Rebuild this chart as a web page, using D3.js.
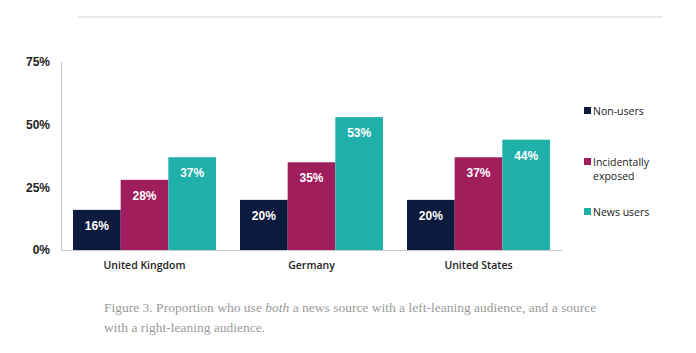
<!DOCTYPE html>
<html><head><meta charset="utf-8">
<script src="https://cdn.jsdelivr.net/npm/d3@7"></script>
<style>html,body{margin:0;padding:0;background:#fff;}svg{display:block;}</style>
</head><body>
<svg id="chart" width="696" height="353"></svg>
<script>
const categories = ["United Kingdom", "Germany", "United States"];
const seriesNames = ["Non-users", "Incidentally exposed", "News users"];
const nonUsers = [16, 20, 20];
const incidentallyExposed = [28, 35, 37];
const newsUsers = [37, 53, 44];
const yTicks = [0, 25, 50, 75];
const colors = ["#0c1a3d", "#a01e5c", "#1fb0ab"];

const seriesValues = [nonUsers, incidentallyExposed, newsUsers];
const svg = d3.select("#chart");
const sans = "'Liberation Sans', Arial, sans-serif";

// top rule
svg.append("line").attr("x1", 78).attr("x2", 663).attr("y1", 17).attr("y2", 17)
  .attr("stroke", "#e2e2e2").attr("stroke-width", 1.5);

const x = d3.scaleBand().domain(categories).range([61, 562]).paddingInner(0.144).paddingOuter(0.072);
const xs = d3.scaleBand().domain(d3.range(3)).range([0, x.bandwidth()]);
const y = d3.scaleLinear().domain([0, 75]).range([250, 62]);

// y axis line
svg.append("line").attr("x1", 61.5).attr("x2", 61.5).attr("y1", 62).attr("y2", 250)
  .attr("stroke", "#c8c8c8").attr("stroke-width", 1);

const yAxis = svg.append("g").attr("transform", "translate(61,0)")
  .call(d3.axisLeft(y).tickValues(yTicks).tickFormat(d => d + "%").tickSize(0).tickPadding(11));
yAxis.select(".domain").remove();
yAxis.selectAll("text").attr("font-family", sans).attr("font-size", 12).attr("font-weight", "bold").attr("fill", "#222");

// bars
categories.forEach((c, ci) => {
  seriesValues.forEach((vals, si) => {
    const v = vals[ci];
    const bx = x(c) + xs(si);
    svg.append("rect").attr("x", bx).attr("y", y(v)).attr("width", xs.bandwidth()).attr("height", y(0) - y(v))
      .attr("fill", colors[si]);
    svg.append("text").attr("x", bx + xs.bandwidth() / 2).attr("y", y(v) + 20)
      .attr("text-anchor", "middle").attr("font-family", sans).attr("font-size", 12).attr("font-weight", "bold")
      .attr("fill", "#fff").text(v + "%");
  });
});

// x axis
const xAxis = svg.append("g").attr("transform", "translate(0,250)")
  .call(d3.axisBottom(x).tickSize(0).tickPadding(12));
xAxis.select(".domain").attr("stroke", "#c8c8c8");
xAxis.selectAll("text").attr("font-family", "'Open Sans', sans-serif").attr("font-size", 10.5).attr("font-weight", 600).attr("fill", "#222");

// legend
const legendY = [[111], [162, 176], [212]];
const legendLines = [["Non-users"], ["Incidentally", "exposed"], ["News users"]];
seriesNames.forEach((n, i) => {
  svg.append("rect").attr("x", 584).attr("y", legendY[i][0] - 4).attr("width", 7).attr("height", 7).attr("fill", colors[i]);
  legendLines[i].forEach((t, j) => {
    svg.append("text").attr("x", 593).attr("y", legendY[i][j] + 4)
      .attr("font-family", "'Open Sans', sans-serif").attr("font-size", 10.5).attr("fill", "#222").text(t);
  });
});

// caption
const cap = svg.append("g").attr("font-family", "'Liberation Serif', 'DejaVu Serif', serif").attr("font-size", 13.5).attr("fill", "#9a9a9a");
const l1 = cap.append("text").attr("x", 104).attr("y", 312);
l1.append("tspan").text("Figure 3. Proportion who use ");
l1.append("tspan").attr("font-style", "italic").text("both");
l1.append("tspan").text(" a news source with a left-leaning audience, and a source");
cap.append("text").attr("x", 104).attr("y", 332).text("with a right-leaning audience.");
</script>
</body></html>
